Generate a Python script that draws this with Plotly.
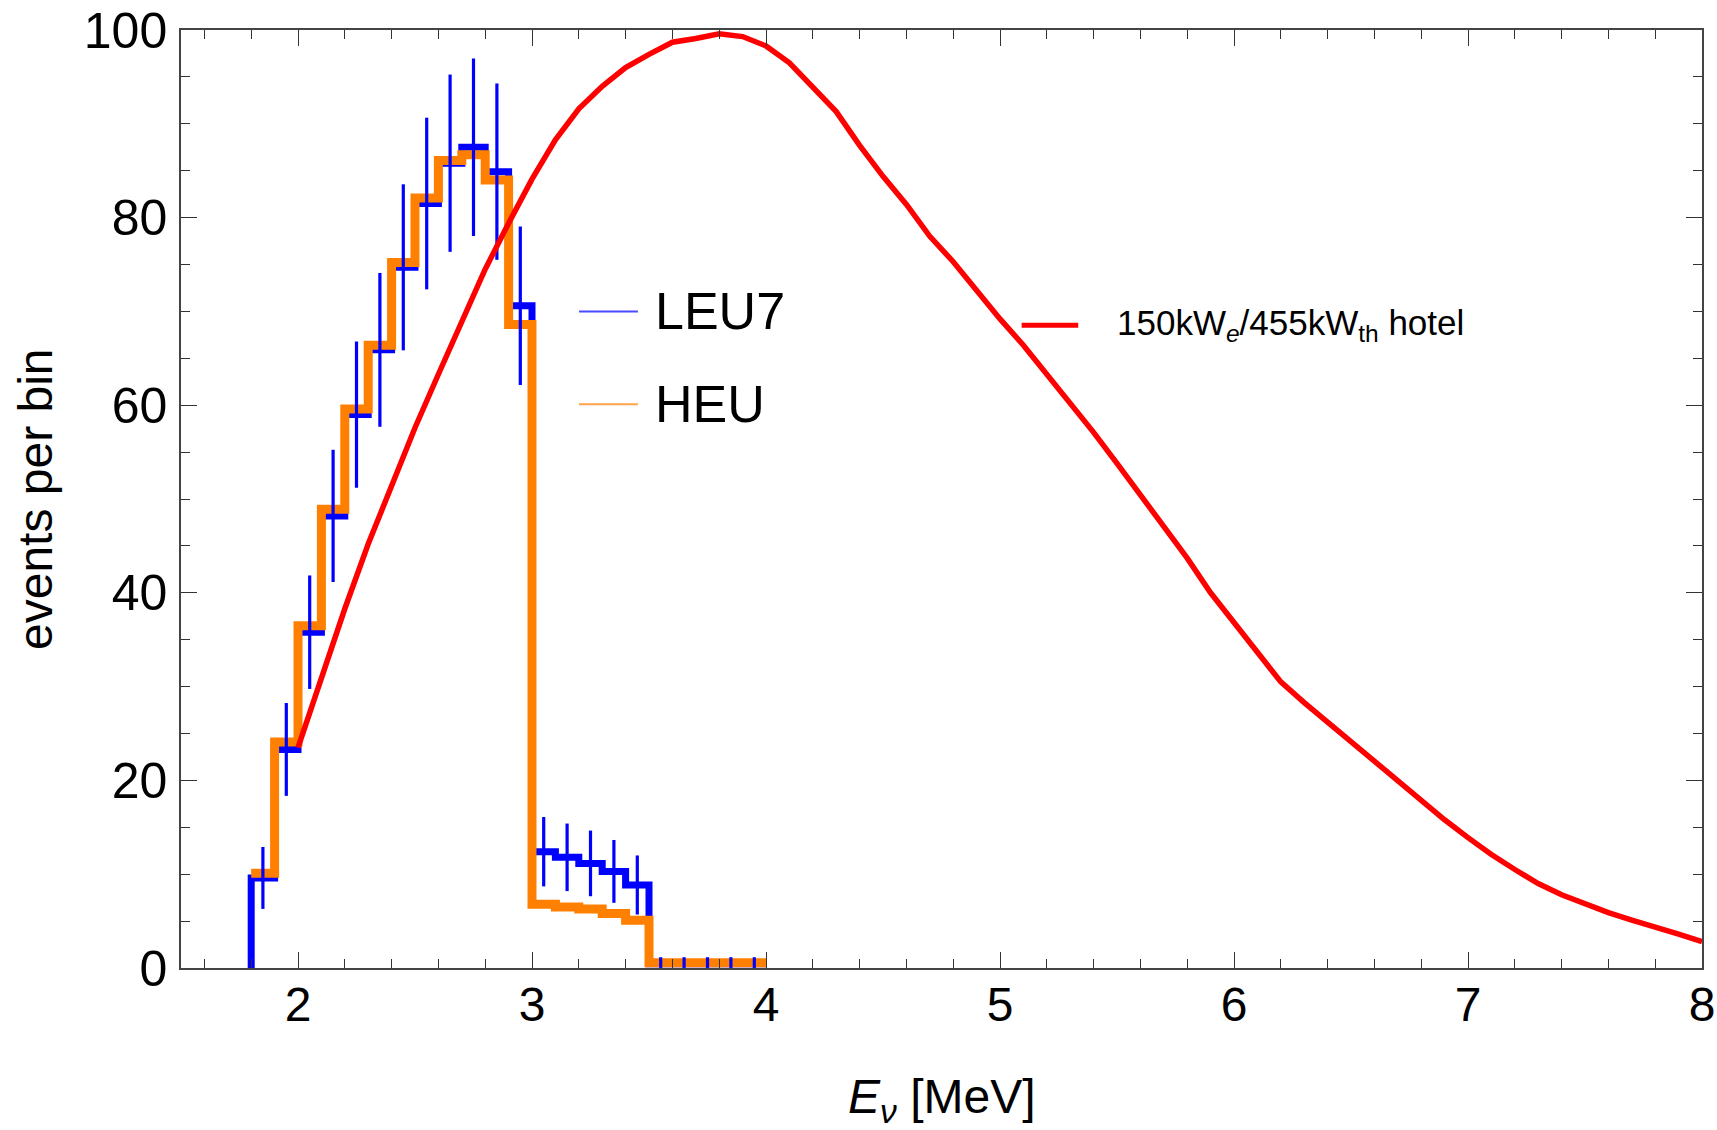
import plotly.graph_objects as go

# ---------------- data ----------------
bin_edges = [1.8, 1.9, 2.0, 2.1, 2.2, 2.3, 2.4, 2.5, 2.6, 2.7, 2.8, 2.9,
             3.0, 3.1, 3.2, 3.3, 3.4, 3.5, 3.6, 3.7, 3.8, 3.9, 4.0]
bin_centers = [1.85, 1.95, 2.05, 2.15, 2.25, 2.35, 2.45, 2.55, 2.65, 2.75, 2.85,
               2.95, 3.05, 3.15, 3.25, 3.35, 3.45, 3.55, 3.65, 3.75, 3.85, 3.95]

leu7 = [9.6, 23.3, 35.8, 48.2, 59.0, 65.9, 74.7, 81.5, 85.8, 87.5, 84.9,
        70.6, 12.4, 11.8, 11.15, 10.3, 8.85, 0.45, 0.45, 0.45, 0.45, 0.45]
leu7_err = [3.3, 4.95, 6.05, 7.05, 7.8, 8.2, 8.85, 9.15, 9.45, 9.45, 9.4,
            8.45, 3.7, 3.6, 3.5, 3.35, 3.15, 0.7, 0.7, 0.7, 0.7, 0.7]
heu = [10.1, 24.1, 36.5, 48.9, 59.6, 66.4, 75.2, 82.1, 86.1, 86.7, 84.0,
       68.6, 6.8, 6.5, 6.3, 5.8, 5.1, 0.55, 0.55, 0.55, 0.55, 0.55]

hotel_E = [2.0, 2.1, 2.2, 2.3, 2.4, 2.5, 2.6, 2.7, 2.8, 2.9, 3.0, 3.1, 3.2,
           3.3, 3.4, 3.5, 3.6, 3.7, 3.8, 3.9, 4.0, 4.1, 4.2, 4.3, 4.4, 4.5,
           4.6, 4.7, 4.8, 4.9, 5.0, 5.1, 5.2, 5.3, 5.4, 5.5, 5.6, 5.7, 5.8,
           5.9, 6.0, 6.1, 6.2, 6.3, 6.4, 6.5, 6.6, 6.7, 6.8, 6.9, 7.0, 7.1,
           7.2, 7.3, 7.4, 7.5, 7.6, 7.7, 7.8, 7.9, 8.0]
hotel_rate = [23.5, 31.0, 38.3, 45.2, 51.6, 57.6, 63.3, 68.9, 74.5, 79.4,
              84.1, 88.3, 91.6, 94.0, 96.0, 97.4, 98.7, 99.1, 99.6, 99.3,
              98.3, 96.5, 94.0, 91.3, 87.7, 84.4, 81.4, 78.0, 75.3, 72.2,
              69.2, 66.4, 63.3, 60.4, 57.1, 53.8, 50.5, 47.0, 43.7, 40.0,
              36.8, 33.8, 30.5, 28.3, 26.2, 24.1, 22.0, 19.9, 17.8, 15.8,
              13.9, 12.1, 10.5, 9.0, 7.8, 6.8, 5.9, 5.1, 4.4, 3.6, 2.8]

x_ticks = [2, 3, 4, 5, 6, 7, 8]
y_ticks = [0, 20, 40, 60, 80, 100]

FONT = "Liberation Sans, Arial, Helvetica, sans-serif"
BLUE = "#0000ff"
ORANGE = "#ff8000"
RED = "#ff0000"

fig = go.Figure()

# LEU7 step histogram (starts from zero at the first edge)
fig.add_trace(go.Scatter(
    x=[bin_edges[0]] + bin_edges,
    y=[0] + leu7 + [leu7[-1]],
    mode="lines", line=dict(shape="hv", color=BLUE, width=7),
    showlegend=False, hoverinfo="skip"))

# HEU step histogram
fig.add_trace(go.Scatter(
    x=bin_edges,
    y=heu + [heu[-1]],
    mode="lines", line=dict(shape="hv", color=ORANGE, width=9),
    showlegend=False, hoverinfo="skip"))

# LEU7 error bars
fig.add_trace(go.Scatter(
    x=bin_centers, y=leu7, mode="markers",
    marker=dict(size=1, color="rgba(0,0,0,0)"),
    error_y=dict(type="data", array=leu7_err, symmetric=True,
                 width=0, thickness=3.2, color=BLUE),
    showlegend=False, hoverinfo="skip"))

# hotel reactor spectrum
fig.add_trace(go.Scatter(
    x=hotel_E, y=hotel_rate, mode="lines",
    line=dict(color=RED, width=5.5),
    showlegend=False, hoverinfo="skip"))

axis_common = dict(
    showline=True, linecolor="#444444", linewidth=1.5, mirror="allticks",
    ticks="inside", ticklen=16, tickwidth=1.3, tickcolor="#333333",
    showgrid=False, zeroline=False, automargin=False,
)

fig.update_xaxes(
    range=[1.5, 8], tickvals=x_ticks, ticktext=[str(v) for v in x_ticks],
    minor=dict(ticks="inside", dtick=0.2, tick0=0, ticklen=9, tickwidth=1.2,
               tickcolor="#333333", showgrid=False),
    tickfont=dict(family=FONT, size=48, color="black"),
    ticklabelstandoff=-6,
    **axis_common)

fig.update_yaxes(
    range=[0, 100], tickvals=y_ticks, ticktext=[str(v) for v in y_ticks],
    minor=dict(ticks="inside", dtick=5, tick0=0, ticklen=9, tickwidth=1.2,
               tickcolor="#333333", showgrid=False),
    tickfont=dict(family=FONT, size=50, color="black"),
    ticklabelstandoff=2,
    **axis_common)

# axis titles
fig.add_annotation(xref="paper", yref="paper", x=0.5, y=-0.1407,
                   xanchor="center", yanchor="middle", showarrow=False,
                   text="<i>E</i><sub><i>ν</i></sub> [MeV]",
                   font=dict(family=FONT, size=48, color="black"))
fig.add_annotation(xref="paper", yref="paper", x=-0.096, y=0.5,
                   xanchor="center", yanchor="middle", showarrow=False,
                   textangle=-90, text="events per bin",
                   font=dict(family=FONT, size=48, color="black"))

# ---- legend drawn as decoration (paper coordinates) ----
legend_items = [
    ("LEU7", "#4a4aff", 2, 0.2617, 0.3004, 0.700, 0.3103, 52),
    ("HEU", "#ffa348", 2, 0.2617, 0.3004, 0.601, 0.3103, 52),
    ("150kW<sub><i>e</i></sub>/455kW<sub>th</sub> hotel", RED, 5,
     0.5527, 0.5899, 0.6852, 0.6140, 35),
]
for label, col, w, x0, x1, yy, xt, fs in legend_items:
    fig.add_shape(type="line", xref="paper", yref="paper",
                  x0=x0, x1=x1, y0=yy, y1=yy,
                  line=dict(color=col, width=w))
    fig.add_annotation(xref="paper", yref="paper", x=xt, y=yy,
                       xanchor="left", yanchor="middle", showarrow=False,
                       text=label, font=dict(family=FONT, size=fs, color="black"))

fig.update_layout(
    width=1717, height=1130,
    margin=dict(l=181, r=15, t=30, b=162),
    paper_bgcolor="white", plot_bgcolor="white",
    showlegend=False,
)

fig.write_html("out.html",
               config={"displayModeBar": False},
               post_script="document.body.style.margin='0';"
                           "document.body.style.padding='0';"
                           "document.documentElement.style.overflow='hidden';")
